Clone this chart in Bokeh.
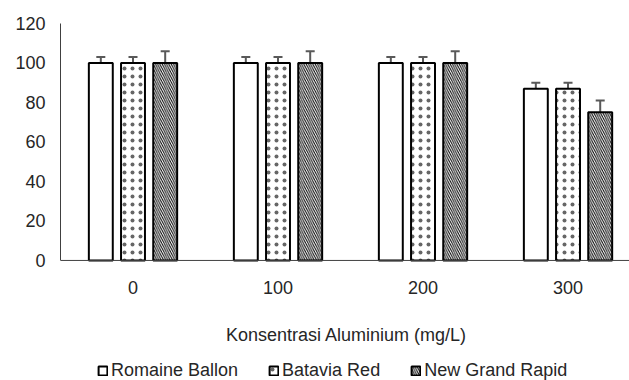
from bokeh.plotting import figure
from bokeh.models import (ColumnDataSource, Whisker, TeeHead, Legend, LegendItem, FixedTicker,
                          Range1d, Span, Label)
from bokeh.core.properties import value
from bokeh.embed import file_html
from bokeh.resources import INLINE

categories = ["0", "100", "200", "300"]
series = ["Romaine Ballon", "Batavia Red", "New Grand Rapid"]
romaine = [100, 100, 100, 87]
batavia = [100, 100, 100, 87]
grand_rapid = [100, 100, 100, 75]
romaine_err = [3, 3, 3, 3]
batavia_err = [3, 3, 3, 3]
grand_rapid_err = [6, 6, 6, 6]
y_ticks = [0, 20, 40, 60, 80, 100, 120]
x_title = "Konsentrasi Aluminium (mg/L)"

FONT = "Liberation Sans"
FS = "18px"
TXT = "#262626"

# frame runs to the bottom of the page; value 0 sits at the chart's baseline
p = figure(frame_width=569, frame_height=357, output_backend="svg", toolbar_location=None,
           x_range=Range1d(-0.5, 3.424), y_range=Range1d(-60.8, 120),
           x_axis_location=None,
           min_border_left=60, min_border_right=0, min_border_top=23, min_border_bottom=0)
p.outline_line_color = None
p.grid.grid_line_color = None
p.background_fill_color = "white"
p.border_fill_color = "white"

# baseline (x axis line)
p.add_layout(Span(location=0, dimension="width", line_color="#404040", line_width=1))

offsets = [-0.222, 0.0, 0.222]
vals = [romaine, batavia, grand_rapid]
errs = [romaine_err, batavia_err, grand_rapid_err]
hatches = [" ", "dot", "left_diagonal_line"]
scales = [12, 8, 4.5]
alphas = [1.0, 0.6, 1.0]
renderers = []
for k in range(3):
    xs = [i + offsets[k] for i in range(len(categories))]
    src = ColumnDataSource(dict(x=xs, top=vals[k],
                                upper=[v + e for v, e in zip(vals[k], errs[k])],
                                lower=[v - e for v, e in zip(vals[k], errs[k])]))
    r = p.vbar(x="x", top="top", width=0.165, source=src, fill_color="white",
               line_color="black", line_width=2, hatch_pattern=hatches[k],
               hatch_color="black", hatch_scale=scales[k], hatch_weight=1,
               hatch_alpha=alphas[k])
    renderers.append(r)
    w = Whisker(base="x", upper="upper", lower="lower", source=src,
                line_color="#595959", line_width=2,
                upper_head=TeeHead(size=9, line_color="#595959", line_width=2),
                lower_head=TeeHead(size=9, line_color="#595959", line_width=2))
    p.add_layout(w)

# category labels under the baseline
cat_src = ColumnDataSource(dict(x=list(range(len(categories))), y=[0] * len(categories),
                                text=categories))
p.text(x="x", y="y", text="text", source=cat_src, text_font=value(FONT),
       text_font_size=FS, text_color=TXT, text_align="center", text_baseline="middle",
       y_offset=27)

# axis title
p.add_layout(Label(x=286, y=46, x_units="screen", y_units="screen", text=x_title,
                   text_font=FONT, text_font_size=FS, text_color=TXT,
                   text_align="center", text_baseline="middle"))

p.yaxis.ticker = FixedTicker(ticks=y_ticks)
p.yaxis.bounds = (0, 120)
p.yaxis.major_tick_line_color = None
p.yaxis.major_tick_out = 0
p.yaxis.major_tick_in = 0
p.yaxis.minor_tick_line_color = None
p.yaxis.axis_line_color = "#404040"
p.yaxis.major_label_text_font = FONT
p.yaxis.major_label_text_font_size = FS
p.yaxis.major_label_text_color = TXT
p.yaxis.major_label_standoff = 15

legend = Legend(items=[LegendItem(label=s, renderers=[r]) for s, r in zip(series, renderers)],
                orientation="horizontal", location=(37, -1),
                glyph_width=11, glyph_height=11, label_standoff=3, spacing=30,
                label_text_font=FONT, label_text_font_size=FS, label_text_color=TXT,
                border_line_color=None, background_fill_alpha=0, padding=0, margin=0)
p.add_layout(legend, "center")

open("out.html", "w").write(file_html(p, INLINE))
